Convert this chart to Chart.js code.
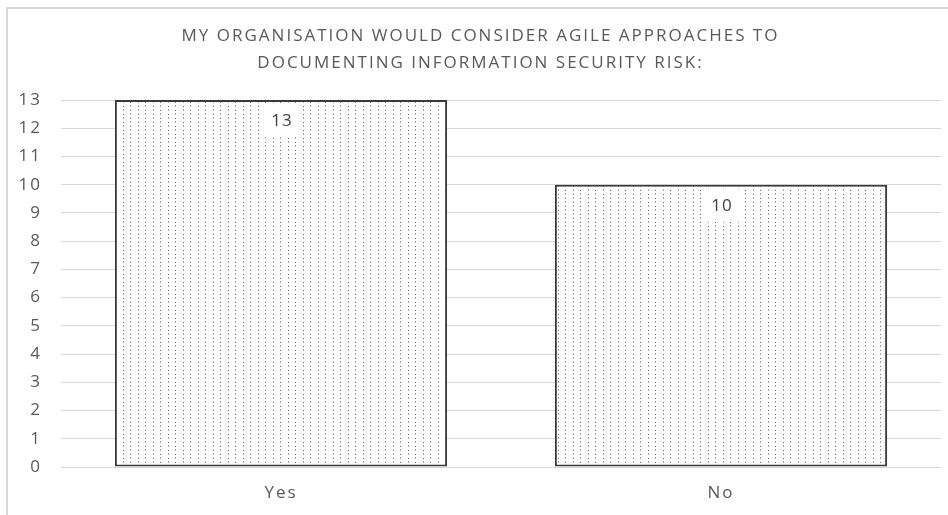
<!DOCTYPE html>
<html>
<head>
<meta charset="utf-8">
<script src="https://cdn.jsdelivr.net/npm/chart.js@4.4.1/dist/chart.umd.min.js"></script>
<style>
  html, body { margin: 0; padding: 0; background: #fff; }
  #wrap { position: relative; width: 948px; height: 515px; overflow: hidden; }
  #frame { position: absolute; left: 6px; top: 7px; width: 960px; height: 530px;
           border-left: 2px solid #d9d9d9; border-top: 2px solid #d9d9d9; }
  canvas { position: absolute; left: 0; top: 0; }
</style>
</head>
<body>
<div id="wrap">
  <div id="frame"></div>
  <canvas id="agileChart" width="948" height="515"></canvas>
</div>
<script>
const categories = ['Yes', 'No'];
const responses = [13, 10];
const yTicks = [0, 1, 2, 3, 4, 5, 6, 7, 8, 9, 10, 11, 12, 13];
const titleLines = ['MY ORGANISATION WOULD CONSIDER AGILE APPROACHES TO', 'DOCUMENTING INFORMATION SECURITY RISK:'];

// dotted fill like the excel pattern
function dotPattern() {
  const c = document.createElement('canvas');
  c.width = 15;
  c.height = 8;
  const g = c.getContext('2d');
  g.fillStyle = '#fff';
  g.fillRect(0, 0, 15, 8);
  g.fillStyle = '#666';
  g.fillRect(3, 2, 1, 1);
  g.fillRect(10, 6, 1, 1);
  g.fillStyle = '#aaa';
  g.fillRect(3, 5, 1, 2);
  g.fillRect(10, 1, 1, 2);
  return g.createPattern(c, 'repeat');
}

// wider text, the reference font runs wide
const spacing = {
  id: 'spacing',
  beforeUpdate(chart) { chart.ctx.letterSpacing = '2px'; },
  beforeDraw(chart) { chart.ctx.letterSpacing = '2px'; }
};

// value labels with a white box, inside the top of each bar
const barLabels = {
  id: 'barLabels',
  afterDatasetsDraw(chart) {
    const ctx = chart.ctx;
    const meta = chart.getDatasetMeta(0);
    ctx.save();
    ctx.letterSpacing = '1px';
    ctx.font = '17px "Open Sans"';
    ctx.textAlign = 'center';
    ctx.textBaseline = 'middle';
    meta.data.forEach(function (bar, i) {
      const cy = bar.y + 21;
      ctx.fillStyle = '#fff';
      ctx.fillRect(bar.x - 19, cy - 16, 38, 32);
      ctx.fillStyle = '#404040';
      ctx.fillText(String(responses[i]), bar.x + 1, cy);
    });
    ctx.restore();
  }
};

const ctx = document.getElementById('agileChart').getContext('2d');
const agileChart = new Chart(ctx, {
  type: 'bar',
  data: {
    labels: categories,
    datasets: [{
      data: responses,
      backgroundColor: dotPattern(),
      borderColor: '#3a3a3a',
      borderWidth: 2,
      borderSkipped: false,
      categoryPercentage: 0.755,
      barPercentage: 1
    }]
  },
  options: {
    responsive: false,
    animation: false,
    layout: { padding: { left: 20, right: 7, top: 0, bottom: 0 } },
    plugins: {
      legend: { display: false },
      tooltip: { enabled: false },
      title: {
        display: true,
        text: titleLines,
        color: '#595959',
        font: { family: 'Open Sans', size: 17, weight: 'normal', lineHeight: 1.59 },
        padding: { top: 23, bottom: 23 }
      }
    },
    scales: {
      x: {
        afterFit(axis) { axis.height = 48; },
        grid: { display: false, drawTicks: false },
        border: { display: false },
        ticks: { color: '#595959', font: { family: 'Open Sans', size: 17 }, padding: 16 }
      },
      y: {
        min: 0,
        max: 13,
        afterBuildTicks(axis) {
          axis.ticks = yTicks.map(function (v) { return { value: v }; });
        },
        afterFit(axis) { axis.width = 41; },
        grid: { color: '#d9d9d9', lineWidth: 1, drawTicks: false },
        border: { display: false },
        ticks: { color: '#595959', font: { family: 'Open Sans', size: 17 }, padding: 19 }
      }
    }
  },
  plugins: [spacing, barLabels]
});
</script>
</body>
</html>
